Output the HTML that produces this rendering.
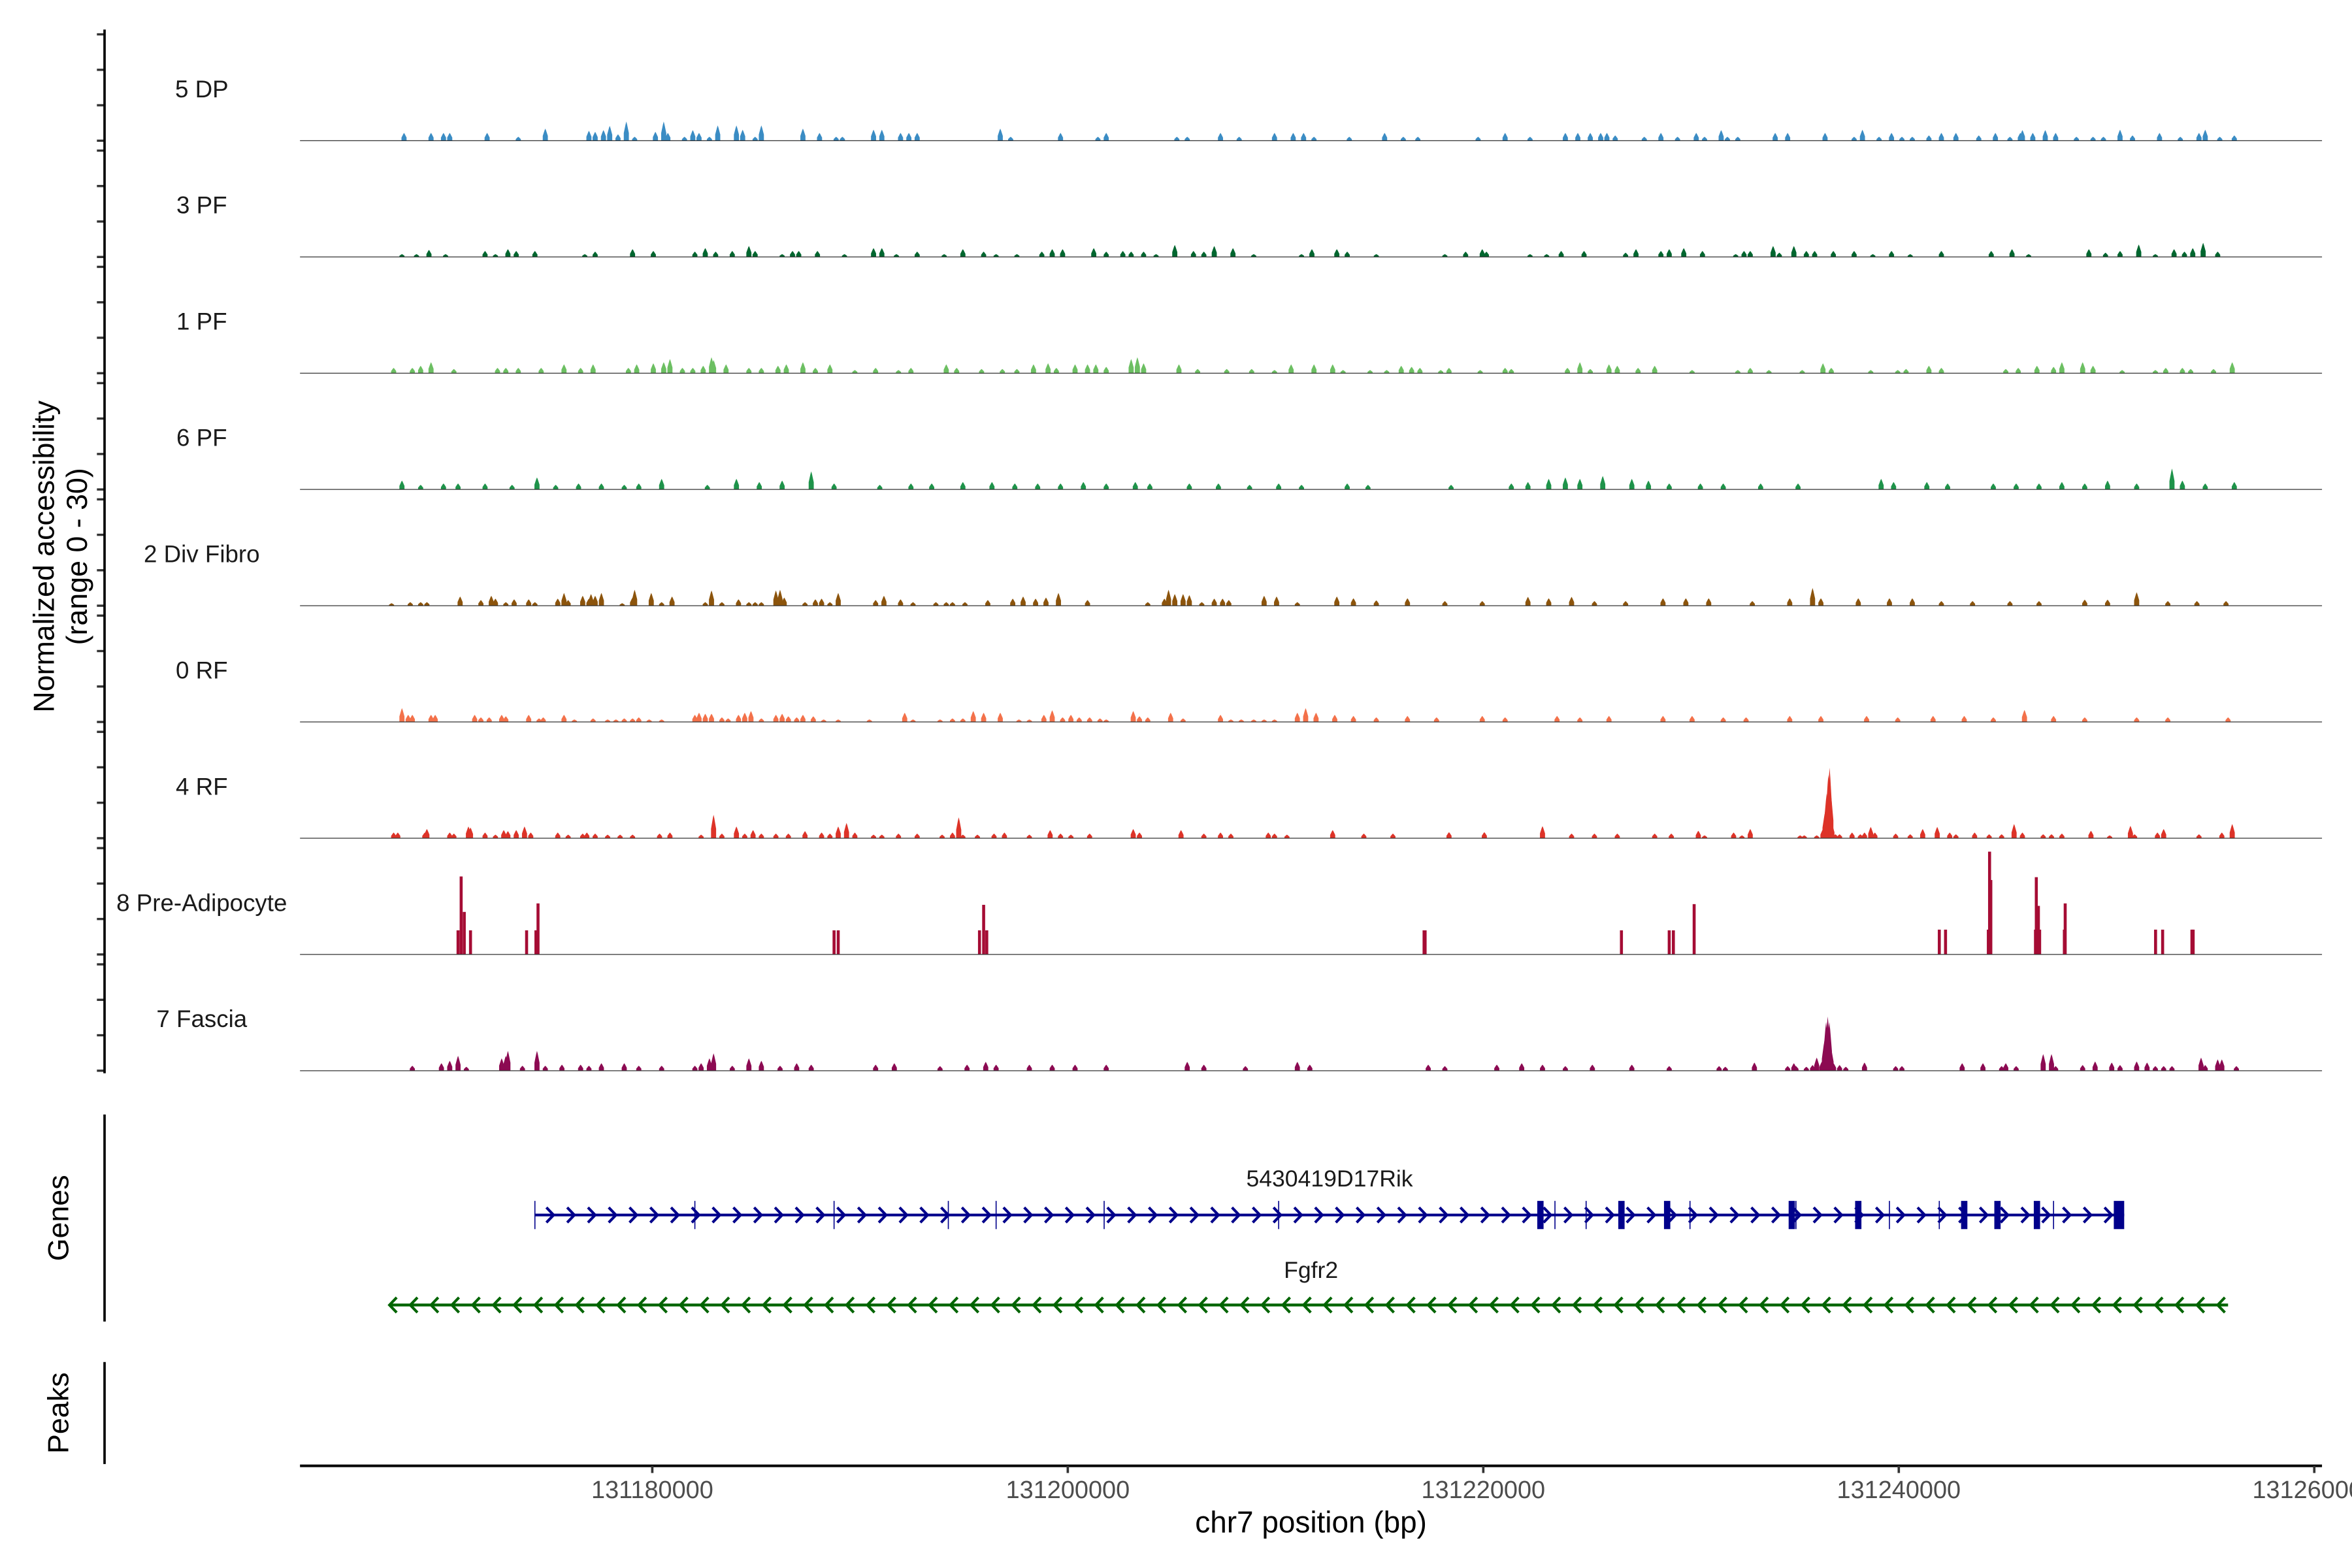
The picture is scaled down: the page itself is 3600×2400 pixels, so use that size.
<!DOCTYPE html>
<html><head><meta charset="utf-8"><style>
html,body{margin:0;padding:0;background:#fff;}
svg{display:block;}
text{font-family:"Liberation Sans",Arial,sans-serif;}
</style></head>
<body>
<svg id="chart" xmlns="http://www.w3.org/2000/svg" width="3600" height="2400" viewBox="0 0 1568 1045.33">
<rect x="0" y="0" width="1568" height="1045.33" fill="#fff"/>
<g id="tracks"></g>
<g id="genes"></g>
<g id="axes"></g>
</svg>
<script>
// ---- data (positions are kb offsets from region anchor START_BP) ----
const START_BP = 131161050;
const trackNames = ["5 DP","3 PF","1 PF","6 PF","2 Div Fibro","0 RF","4 RF","8 Pre-Adipocyte","7 Fascia"];
const trackColors = ["#3a8cc4","#00662f","#6cbf62","#1e934a","#8c540c","#f3714a","#dd3328","#a50c34","#8c0a52"];
const yTicks = [0,10,20,30];
const xTickLabels = [131180000,131200000,131220000,131240000,131260000];

const dpPos = [7.0,8.3,8.9,9.2,11.0,12.5,13.8,15.9,16.2,16.6,16.9,17.3,17.7,18.1,19.1,19.5,19.7,20.5,20.9,21.2,21.7,22.1,23.0,23.3,23.9,24.2,26.2,27.0,27.8,28.1,29.6,30.0,30.9,31.3,31.7,35.7,36.2,38.6,40.4,40.8,44.2,44.7,46.3,47.2,48.9,49.8,50.3,50.8,52.5,54.2,55.1,55.8,58.7,60.0,61.2,62.9,63.5,64.1,64.6,64.9,65.3,66.7,67.5,68.3,69.2,69.6,70.4,70.7,71.2,73.0,73.6,75.4,76.8,77.2,78.0,78.6,79.1,79.6,80.4,81.0,81.7,82.8,83.6,84.3,84.8,84.9,85.4,86.0,86.5,87.5,88.3,88.8,89.6,90.2,91.5,92.5,93.4,93.7,94.4,95.1];
const dpVal = [2.2,2.2,2.2,2.2,2.2,1.1,3.4,2.8,2.5,3.0,4.2,1.8,5.4,1.1,2.5,5.4,2.2,1.1,3.0,2.2,1.1,4.3,4.3,3.1,1.1,4.3,3.4,2.2,1.1,1.1,3.1,3.1,2.2,2.2,2.2,3.4,1.1,2.2,1.1,2.2,1.1,1.1,2.2,1.1,2.2,2.2,2.2,1.1,1.1,2.2,1.1,1.1,1.1,2.2,1.1,2.2,2.2,2.2,2.2,2.2,1.5,1.1,2.2,1.1,2.2,1.1,3.0,1.1,1.1,2.2,2.2,2.2,1.1,3.1,1.1,2.2,1.1,1.1,1.5,2.2,2.2,1.5,2.2,1.1,2.2,3.0,2.2,3.0,2.2,1.1,1.1,1.1,3.1,1.5,2.2,1.1,2.2,3.1,1.1,1.5];

const pf3Pos = [6.9,7.6,8.2,9.0,10.9,11.4,12.0,12.4,13.3,15.7,16.2,18.0,19.0,21.0,21.5,22.0,22.8,23.6,23.9,25.2,25.7,26.0,26.9,28.2,29.6,30.0,30.7,31.7,33.0,33.9,34.9,35.5,36.5,37.7,38.2,38.7,40.2,40.8,41.6,42.0,42.6,43.2,44.1,45.0,45.5,46.0,46.9,47.9,50.2,50.7,51.9,52.4,53.8,57.1,58.1,58.9,59.1,61.2,62.0,62.7,63.8,65.8,66.3,67.5,67.9,68.6,69.5,71.1,71.5,71.8,72.9,73.2,73.9,74.5,74.9,75.8,76.8,77.7,78.6,79.5,81.0,83.4,84.4,85.2,88.1,88.9,89.6,90.5,91.3,92.2,92.7,93.1,93.6,94.3];
const pf3Val = [0.8,0.8,2.0,0.8,1.7,0.8,2.2,1.7,1.7,0.8,1.5,2.2,1.7,1.5,2.5,1.5,1.7,3.1,1.7,0.8,1.7,1.7,1.7,0.8,2.5,2.5,0.8,1.5,0.8,2.2,1.5,0.8,0.8,1.5,2.2,2.2,2.5,1.5,1.7,1.5,1.5,0.8,3.4,1.7,1.5,3.1,2.5,0.8,0.8,2.2,2.2,1.5,0.8,0.8,1.5,2.2,1.5,0.8,0.8,1.7,1.7,1.2,2.2,1.7,2.2,2.5,1.7,0.8,1.7,1.7,3.1,1.2,3.1,1.7,1.7,1.7,1.7,0.8,1.7,0.8,1.7,1.7,2.2,0.8,2.2,1.2,1.7,3.5,0.8,2.2,1.5,2.5,4.0,1.5];

const pf1Pos = [6.5,7.4,7.8,8.3,9.4,11.5,11.9,12.5,13.6,14.7,15.5,16.1,17.8,18.2,19.0,19.5,19.8,20.4,20.9,21.4,21.8,21.9,22.5,23.6,24.2,25.0,25.4,26.2,26.8,27.5,28.7,29.7,30.8,31.4,33.1,33.6,34.8,35.8,36.5,37.3,38.0,38.4,39.3,39.9,40.3,40.8,42.0,42.3,42.6,44.3,45.2,46.6,47.8,48.9,49.7,50.8,51.7,52.2,53.5,54.3,55.0,55.5,55.9,56.9,57.3,58.8,60.0,60.3,63.0,63.6,64.1,65.0,65.4,66.4,67.2,69.0,71.2,71.8,72.7,74.3,75.3,75.7,77.6,78.9,79.3,80.4,81.0,84.1,84.7,85.6,86.4,86.8,87.8,88.3,89.7,91.3,91.8,92.6,93.0,94.1,95.0];
const pf1Val = [1.5,1.5,2.1,3.1,1.2,1.5,1.5,1.5,1.5,2.5,1.5,2.5,1.5,2.5,2.8,3.1,4.0,1.5,1.5,2.1,4.5,3.7,2.5,1.5,1.5,2.1,2.5,3.1,1.5,2.5,0.9,1.5,0.9,1.5,2.5,1.5,1.2,1.2,1.2,2.5,2.8,1.5,2.5,2.5,2.5,1.8,4.0,4.5,2.8,2.5,1.2,1.2,1.2,0.9,2.5,2.5,2.5,0.9,0.9,0.9,2.1,1.8,1.5,0.9,1.5,0.9,1.5,1.2,1.5,3.1,1.2,2.5,2.1,1.5,2.1,0.9,0.9,1.5,0.9,0.9,2.8,1.5,0.9,0.9,1.2,2.1,1.5,1.2,1.5,2.1,1.8,3.1,3.1,2.1,0.9,0.9,1.5,1.5,1.2,1.2,3.1];

const pf6Pos = [6.9,7.8,8.9,9.6,10.9,12.2,13.4,14.3,15.4,16.5,17.6,18.3,19.4,21.6,23.0,24.1,25.2,26.6,27.7,29.9,31.4,32.4,33.9,35.3,36.4,37.5,38.6,39.7,40.8,42.2,42.9,44.8,46.2,47.7,49.1,50.2,52.4,53.4,57.4,60.3,61.1,62.1,62.9,63.6,64.7,66.1,66.9,67.9,69.4,70.5,72.3,74.1,78.1,78.7,80.3,81.3,83.5,84.6,85.7,86.8,87.9,89.0,90.4,92.1,92.6,93.7,95.1];
const pf6Val = [2.5,1.3,1.7,1.7,1.7,1.3,3.4,1.3,1.7,1.7,1.3,1.7,3.0,1.3,3.0,2.1,2.5,5.1,1.7,1.3,1.7,1.7,2.1,2.1,1.7,1.7,1.7,2.1,1.7,2.1,1.7,1.7,1.7,1.3,1.7,1.3,1.7,1.3,1.3,1.7,2.1,3.0,3.4,3.0,3.8,3.0,2.5,1.7,1.7,1.7,1.7,1.7,3.0,2.1,2.1,1.7,1.7,1.7,1.7,2.1,1.7,2.5,1.7,5.9,2.5,1.7,2.1];

const divPos = [6.4,7.3,7.8,8.1,9.7,10.7,11.2,11.4,11.9,12.3,13.0,13.3,14.4,14.7,14.9,15.6,15.9,16.0,16.2,16.5,17.5,18.0,18.1,18.9,19.4,19.9,21.5,21.8,22.3,23.1,23.6,23.9,24.2,24.9,25.1,25.3,26.3,26.8,27.1,27.5,27.9,29.7,30.1,30.9,31.5,32.6,33.1,33.4,34.0,35.1,36.3,36.8,37.4,37.9,38.5,39.9,42.8,43.6,43.8,44.1,44.5,44.8,45.4,46.0,46.4,46.7,48.4,49.0,50.0,51.9,52.7,53.8,55.3,57.1,58.9,61.1,62.1,63.2,64.3,65.8,67.6,68.7,69.8,71.9,73.7,74.8,75.2,77.0,78.5,79.6,81.0,82.5,84.3,85.7,87.9,89.0,90.4,91.9,93.3,94.7];
const divVal = [0.7,1.0,1.0,1.0,2.6,1.6,2.8,2.0,1.0,1.8,1.8,1.0,2.0,3.6,1.6,2.8,2.0,3.3,2.8,3.6,0.7,2.3,4.5,3.6,1.0,2.6,1.0,4.3,1.0,1.8,1.0,1.0,1.0,4.3,4.5,2.3,1.0,1.8,2.0,1.0,3.6,1.6,2.8,1.8,1.0,1.0,1.0,1.0,1.0,1.6,2.0,2.6,2.0,2.3,3.6,1.6,1.0,2.0,4.5,3.3,3.3,3.0,1.0,2.0,2.0,1.6,2.8,2.6,1.0,2.6,2.1,1.5,2.1,1.3,1.3,2.5,2.1,2.5,1.3,1.3,2.1,2.1,2.1,1.3,2.1,5.0,2.1,2.1,2.1,2.1,1.3,1.3,1.3,1.3,1.7,1.7,3.8,1.3,1.3,1.3];

const rf0Pos = [6.9,7.2,7.4,8.3,8.5,10.4,10.7,11.1,11.7,11.9,13.0,13.5,13.7,14.7,15.2,16.1,16.8,17.2,17.6,18.0,18.3,18.8,19.4,21.0,21.2,21.5,21.8,22.3,22.6,23.1,23.4,23.7,24.2,24.9,25.2,25.5,25.9,26.2,26.7,27.2,27.9,29.4,31.1,31.5,32.8,33.4,33.9,34.4,34.9,35.7,36.6,37.1,37.8,38.2,38.7,39.1,39.5,40.0,40.5,40.8,42.1,42.4,42.8,43.9,44.5,46.3,46.8,47.3,47.9,48.4,48.9,50.0,50.4,50.9,51.8,52.7,53.8,55.3,56.7,58.9,60.0,62.5,63.6,65.0,67.6,69.0,70.5,71.6,73.7,75.2,77.4,78.9,80.6,82.1,83.5,85.0,86.4,87.9,90.4,91.9,94.8];
const rf0Val = [3.9,2.0,2.0,2.0,2.0,2.0,1.3,1.3,2.0,1.6,2.0,1.0,1.3,2.0,0.7,1.0,0.7,0.7,1.0,1.0,1.3,0.7,0.7,2.0,2.6,2.3,2.3,1.3,1.0,2.0,2.6,3.1,1.0,2.0,2.3,1.6,1.3,2.0,1.6,0.7,0.7,0.7,2.6,0.7,0.7,1.0,1.0,3.1,2.6,2.6,0.7,0.7,2.0,3.3,1.3,2.0,1.3,1.3,1.0,0.7,3.1,1.6,1.3,2.6,1.0,2.0,0.7,0.7,0.7,0.7,0.7,2.6,3.9,2.6,2.0,1.7,1.3,1.7,1.3,1.7,1.3,1.7,1.3,1.7,1.7,1.7,1.3,1.3,1.7,1.7,1.7,1.3,1.7,1.7,1.3,3.4,1.7,1.3,1.3,1.3,1.3];

const rf4Pos = [6.5,6.7,8.0,8.1,9.2,9.4,10.1,10.2,10.9,11.4,11.8,12.0,12.4,12.8,13.1,14.4,14.9,15.6,15.8,16.2,16.8,17.4,18.0,19.3,19.8,21.3,21.9,22.3,23.0,23.4,23.8,24.2,24.9,25.5,26.3,27.1,27.5,27.9,28.3,28.7,29.6,30.0,30.8,31.7,32.9,33.4,33.7,33.9,34.6,35.4,35.9,37.1,38.1,38.6,39.1,40.0,42.1,42.4,44.4,45.5,46.3,46.8,48.6,48.9,49.5,51.7,53.2,54.6,57.3,59.0,61.8,63.2,64.3,65.4,67.2,68.0,69.3,69.6,71.0,71.4,71.8,74.2,74.4,75.0,75.30,75.40,75.48,75.56,75.62,75.68,75.73,75.9,76.1,76.7,77.1,77.3,77.6,77.8,78.8,79.5,80.1,80.8,81.4,81.7,82.6,83.3,83.9,84.5,84.9,85.9,86.3,86.8,88.2,89.1,90.1,90.3,91.4,91.7,93.4,94.5,95.0];
const rf4Val = [1.6,1.6,1.6,2.6,1.6,1.3,3.3,3.0,1.6,1.0,2.3,2.0,2.3,3.3,1.6,1.6,1.0,1.3,1.6,1.3,1.0,1.0,1.0,1.3,1.6,1.0,6.6,1.3,3.3,1.3,2.3,1.3,1.3,1.3,2.0,1.6,1.3,3.3,4.3,1.6,1.0,1.0,1.3,1.3,1.0,1.6,5.9,1.0,1.0,1.3,1.6,1.0,2.3,1.3,1.0,1.3,2.6,1.6,2.3,1.3,1.6,1.3,1.6,1.3,1.0,2.3,1.3,1.3,1.7,1.7,3.4,1.3,1.3,1.3,1.3,1.3,2.1,0.8,1.6,0.8,2.6,0.8,0.8,0.8,2.6,7.4,12.6,17.9,19.9,12.6,4.2,1.1,1.1,1.6,1.1,1.6,3.2,1.6,1.3,1.1,2.6,3.2,1.6,1.1,1.6,1.1,1.1,4.0,1.6,1.1,1.1,1.3,2.1,0.8,3.5,1.1,1.6,2.6,1.1,1.6,4.0];

const paPos = [9.6,9.75,9.9,10.2,12.9,13.35,13.45,27.7,27.9,34.7,34.9,35.05,56.1,56.15,65.6,67.9,68.1,69.1,80.9,81.2,83.26,83.32,83.38,85.53,85.57,85.67,85.73,86.92,86.96,91.31,91.65,93.06,93.12];
const paVal = [6.8,22.0,12.0,6.8,6.8,6.8,14.4,6.8,6.8,6.8,14.0,6.8,6.8,6.8,6.8,6.8,6.8,14.2,7.0,7.0,7.0,29.0,21.0,7.0,21.8,13.7,7.0,7.0,14.4,7.0,7.0,7.0,7.0];

const fasPos = [7.4,8.8,9.2,9.6,10.0,11.7,11.9,12.0,12.7,13.4,13.8,14.6,15.5,15.9,16.5,17.6,18.3,19.4,21.0,21.3,21.7,21.9,22.8,23.6,24.2,25.1,25.9,26.6,29.7,30.6,32.8,34.1,35.0,35.5,37.1,38.2,39.3,40.8,44.7,45.5,47.5,50.0,50.6,56.3,57.1,59.6,60.8,61.8,62.9,64.2,66.1,67.9,70.3,70.6,72.0,73.6,73.9,74.0,74.5,74.8,75.0,75.25,75.37,75.45,75.53,75.61,75.69,75.81,76.1,76.4,77.3,78.8,79.1,82.0,83.0,83.9,84.1,84.6,85.9,86.3,86.5,87.8,88.4,89.2,89.6,90.4,90.9,91.3,91.7,92.1,93.5,93.7,94.3,94.5,95.2];
const fasVal = [1.4,2.1,2.8,4.2,1.1,3.5,4.2,5.6,1.4,5.6,1.4,1.7,1.7,1.4,2.1,2.1,1.4,1.4,1.4,2.1,3.5,4.9,1.4,3.5,2.8,1.4,2.1,1.7,1.7,2.1,1.3,1.7,2.5,1.7,1.7,1.7,1.7,1.7,2.5,1.7,1.3,2.5,1.7,1.7,1.3,1.7,2.1,1.7,1.3,1.7,1.7,1.3,1.3,1.1,2.3,1.3,2.1,1.3,1.1,1.6,3.7,2.6,8.4,13.7,15.3,13.7,6.3,2.1,1.6,1.1,2.3,1.3,1.3,2.1,2.1,1.3,2.1,1.3,4.7,4.7,1.3,1.6,2.6,2.3,1.6,2.6,2.3,1.3,1.3,1.3,3.7,1.6,3.2,3.2,1.3];

const trackPos = [dpPos,pf3Pos,pf1Pos,pf6Pos,divPos,rf0Pos,rf4Pos,paPos,fasPos];
const trackVal = [dpVal,pf3Val,pf1Val,pf6Val,divVal,rf0Val,rf4Val,paVal,fasVal];

// genes (kb offsets)
const rikSpan = [13.3, 89.8];
const rikThickExons = [61.7,65.6,67.8,73.8,77.0,82.1,83.7,85.6];
const rikLastExon = [89.3, 89.8];
const rikThinExons = [13.3,21.0,27.7,33.2,35.5,40.7,49.1,62.4,63.9,68.9,74.0,78.5,80.9,86.4];
const fgfr2Span = [6.3, 94.8];

// ---- scales ----
const NS = "http://www.w3.org/2000/svg";
function xOff(off){ return 172.4 + 13.85*off; }
function xBp(bp){ return xOff((bp - START_BP)/1000); }
const BASE0 = 93.8, STEP = 77.5, FULL = 70.9, YMAX = 30;
function baseline(i){ return BASE0 + STEP*i; }
function yVal(i, v){ return baseline(i) - v*FULL/YMAX; }
function mk(tag, attrs, parent){ const e=document.createElementNS(NS,tag); for(const k in attrs) e.setAttribute(k, attrs[k]); parent.appendChild(e); return e; }

const gT = document.getElementById('tracks');
const gG = document.getElementById('genes');
const gA = document.getElementById('axes');

// tracks
for(let i=0;i<trackNames.length;i++){
  const b = baseline(i);
  const lab = mk('text',{x:134.5,y:b-29,'font-size':16,'text-anchor':'middle',fill:'#1a1a1a'},gT);
  lab.textContent = trackNames[i];
  
  
  const pos = trackPos[i], val = trackVal[i];
  const isPA = (i===7);
  for(let j=0;j<pos.length;j++){
    const x = xOff(pos[j]);
    const yt = yVal(i, val[j]);
    let el;
    if(isPA){
      el = mk('rect',{x:x-1.0,y:yt,width:2.0,height:b-yt,fill:trackColors[i]},gT);
    } else {
      const w = 1.7;
      const ym = b - (b-yt)*0.4;
      el = mk('polygon',{points:`${x-w},${b} ${x-w},${ym} ${x-w*0.3},${yt+(b-yt)*0.15} ${x},${yt} ${x+w*0.3},${yt+(b-yt)*0.15} ${x+w},${ym} ${x+w},${b}`,fill:trackColors[i]},gT);
    }
    
    
  }
  const bl = mk('line',{x1:200,x2:1548,y1:b,y2:b,stroke:'#333',"stroke-width":0.55},gT);
  
  
  for(const t of yTicks){
    const tk = mk('line',{x1:64.6,x2:69.7,y1:yVal(i,t),y2:yVal(i,t),stroke:'#333',"stroke-width":1.5},gA);
    
    
  }
}

// left axis lines
[[19.7,715.5,'track-y-axis-line'],[743,881,'genes-axis-line'],[908,976,'peaks-axis-line']].forEach(a=>{
  const l = mk('line',{x1:69.7,x2:69.7,y1:a[0],y2:a[1],stroke:'#000',"stroke-width":1.6},gA);
  
  
});

// genes
const RIK_Y = 810, FG_Y = 870;
const rikLine = mk('line',{x1:xOff(rikSpan[0]),x2:xOff(rikSpan[1]),y1:RIK_Y,y2:RIK_Y,stroke:'#00008b',"stroke-width":1.8},gG);


for(let k=rikSpan[0]+0.9;k<rikSpan[1];k+=1){
  const x=xOff(k);
  const c = mk('polyline',{points:`${x-4.8},${RIK_Y-5} ${x},${RIK_Y} ${x-4.8},${RIK_Y+5}`,fill:'none',stroke:'#00008b',"stroke-width":1.8},gG);
  
  
}
for(const e of rikThinExons){
  const r = mk('rect',{x:xOff(e)-0.35,y:RIK_Y-9.4,width:0.7,height:18.8,fill:'#00008b'},gG);
  
  
}
for(const e of rikThickExons){
  const r = mk('rect',{x:xOff(e)-2.1,y:RIK_Y-9.4,width:4.2,height:18.8,fill:'#00008b'},gG);
  
  
}
{
  const r = mk('rect',{x:xOff(rikLastExon[0]),y:RIK_Y-9.4,width:xOff(rikLastExon[1])-xOff(rikLastExon[0]),height:18.8,fill:'#00008b'},gG);
  
  
}
const rl = mk('text',{x:(xOff(rikSpan[0])+xOff(rikSpan[1]))/2,y:791,'font-size':15.5,'text-anchor':'middle',fill:'#1a1a1a'},gG);
rl.textContent='5430419D17Rik';



const fgLine = mk('line',{x1:xOff(fgfr2Span[0]),x2:xOff(fgfr2Span[1]),y1:FG_Y,y2:FG_Y,stroke:'#006400',"stroke-width":1.9},gG);


for(let k=fgfr2Span[0];k<fgfr2Span[1]-0.2;k+=1){
  const x=xOff(k);
  const c = mk('polyline',{points:`${x+4.8},${FG_Y-5} ${x},${FG_Y} ${x+4.8},${FG_Y+5}`,fill:'none',stroke:'#006400',"stroke-width":1.8},gG);
  
  
}
const fl = mk('text',{x:874,y:852,'font-size':15.5,'text-anchor':'middle',fill:'#1a1a1a'},gG);
fl.textContent='Fgfr2';



// x axis
const xa = mk('line',{x1:200,x2:1548,y1:977.2,y2:977.2,stroke:'#000',"stroke-width":1.75},gA);


for(const t of xTickLabels){
  const x = xBp(t);
  const tk = mk('line',{x1:x,x2:x,y1:977.2,y2:982,stroke:'#333',"stroke-width":1.6},gA);
  
  
  const tl = mk('text',{x:x,y:998.7,'font-size':16.5,'text-anchor':'middle',fill:'#4d4d4d'},gA);
  tl.textContent = String(t);
  
  
}
const xt = mk('text',{x:874,y:1021.5,'font-size':20,'text-anchor':'middle',fill:'#000'},gA);
xt.textContent='chr7 position (bp)';



// y titles
function vtext(txt, x, y, fs, name){
  const t = mk('text',{x:0,y:0,'font-size':fs,'text-anchor':'middle',fill:'#000',transform:`translate(${x},${y}) rotate(-90)`},gA);
  t.textContent = txt;
  
  
}
vtext('Normalized accessibility', 36, 371, 19.5, 'y-axis-title-line1');
vtext('(range 0 - 30)', 58, 371, 19.5, 'y-axis-title-line2');
vtext('Genes', 45.5, 812, 19.5, 'genes-panel-title');
vtext('Peaks', 45.5, 942, 19.5, 'peaks-panel-title');
</script>
</body></html>
